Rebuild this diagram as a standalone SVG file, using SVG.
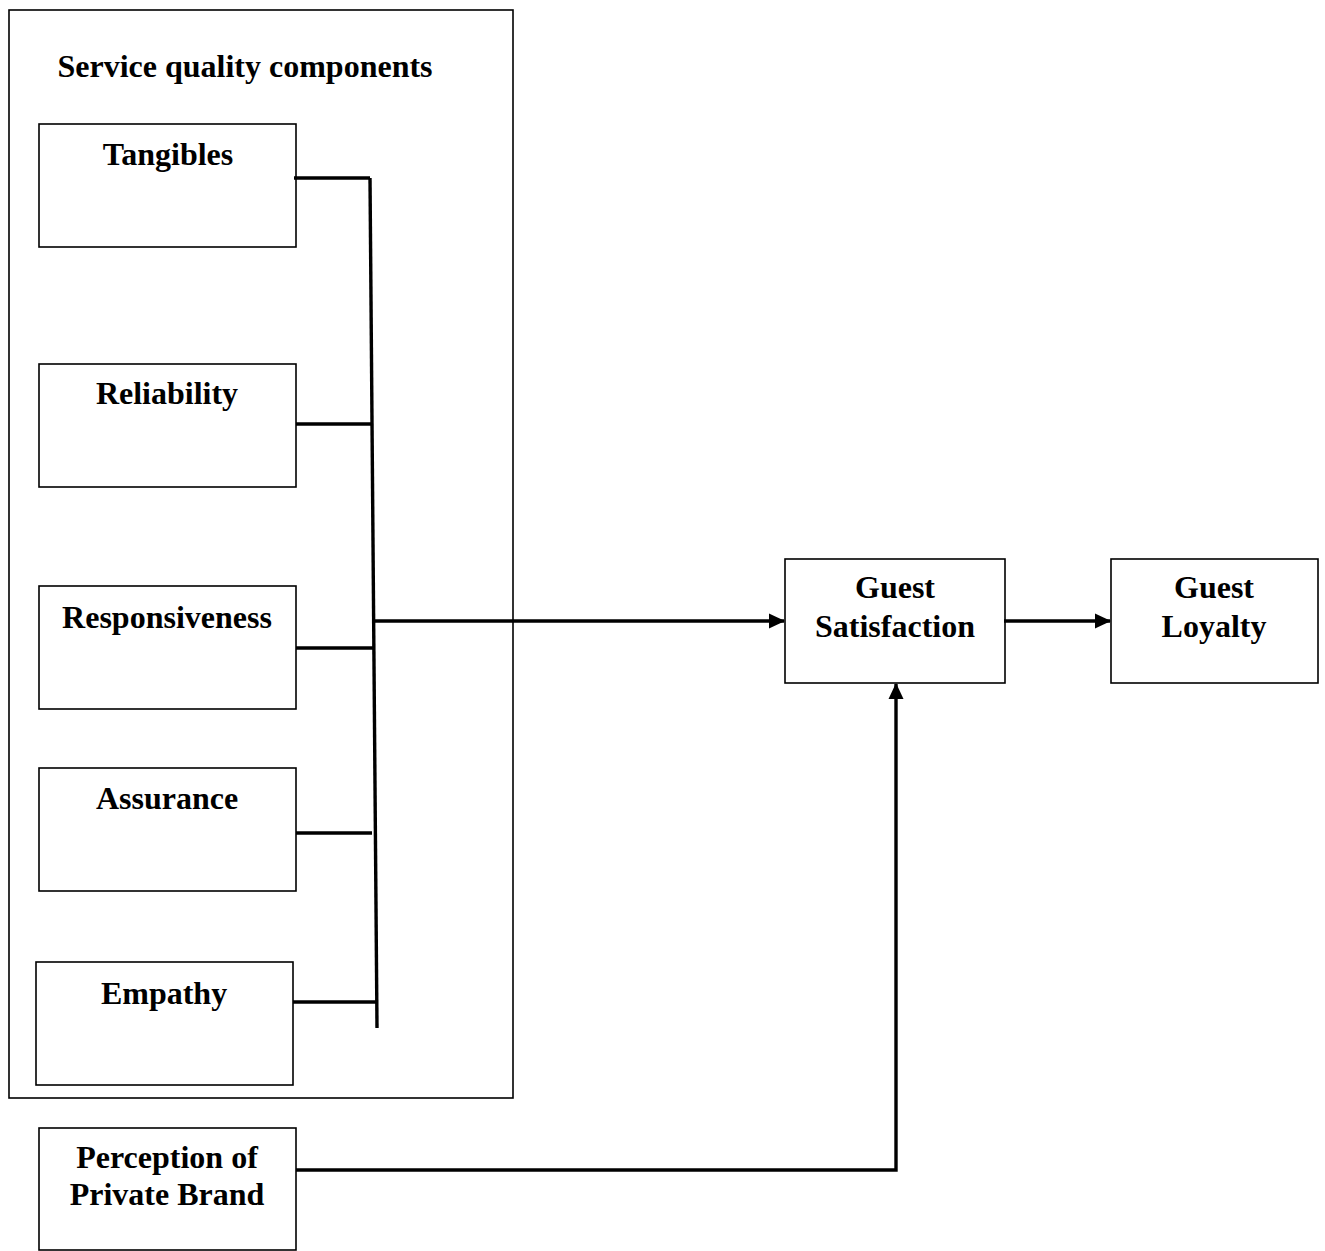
<svg xmlns="http://www.w3.org/2000/svg" width="1325" height="1251" viewBox="0 0 1325 1251">
<style>
.box{fill:#fff;stroke:#000;stroke-width:1.6}
.t{font-family:"Liberation Serif","Times New Roman",serif;font-weight:bold;font-size:32px;fill:#000;text-anchor:middle}
.c{fill:none;stroke:#000;stroke-width:3.4}
</style>
<defs>
<marker id="ah" markerWidth="16" markerHeight="16" refX="15" refY="8" orient="auto" markerUnits="userSpaceOnUse">
<path d="M0,0.5 L16,8 L0,15.5 Z" fill="#000"/>
</marker>
</defs>
<rect width="1325" height="1251" fill="#fff"/>
<g id="container">
<rect class="box" x="9" y="10" width="504" height="1088"/>
<text class="t" x="245" y="77">Service quality components</text>
</g>
<g id="tangibles"><rect class="box" x="39" y="124" width="257" height="123"/><text class="t" x="168" y="165">Tangibles</text></g>
<g id="reliability"><rect class="box" x="39" y="364" width="257" height="123"/><text class="t" x="167" y="404">Reliability</text></g>
<g id="responsiveness"><rect class="box" x="39" y="586" width="257" height="123"/><text class="t" x="167" y="628">Responsiveness</text></g>
<g id="assurance"><rect class="box" x="39" y="768" width="257" height="123"/><text class="t" x="167" y="809">Assurance</text></g>
<g id="empathy"><rect class="box" x="36" y="962" width="257" height="123"/><text class="t" x="164" y="1004">Empathy</text></g>
<g id="perception"><rect class="box" x="39" y="1128" width="257" height="122"/><text class="t" x="167" y="1168">Perception of</text><text class="t" x="167" y="1205">Private Brand</text></g>
<g id="satisfaction"><rect class="box" x="785" y="559" width="220" height="124"/><text class="t" x="895" y="598">Guest</text><text class="t" x="895" y="637">Satisfaction</text></g>
<g id="loyalty"><rect class="box" x="1111" y="559" width="207" height="124"/><text class="t" x="1214" y="598">Guest</text><text class="t" x="1214" y="637">Loyalty</text></g>
<g id="connectors">
<path class="c" d="M294,178 H370"/>
<path class="c" d="M370,178 L377,1028"/>
<path class="c" d="M296,424 H372"/>
<path class="c" d="M296,648 H375"/>
<path class="c" d="M296,833 H372"/>
<path class="c" d="M293,1002 H376"/>
<path class="c" d="M373,621 H784" marker-end="url(#ah)"/>
<path class="c" d="M1004,621 H1110" marker-end="url(#ah)"/>
<path class="c" d="M296,1170 H896 V684" marker-end="url(#ah)"/>
</g>
</svg>
